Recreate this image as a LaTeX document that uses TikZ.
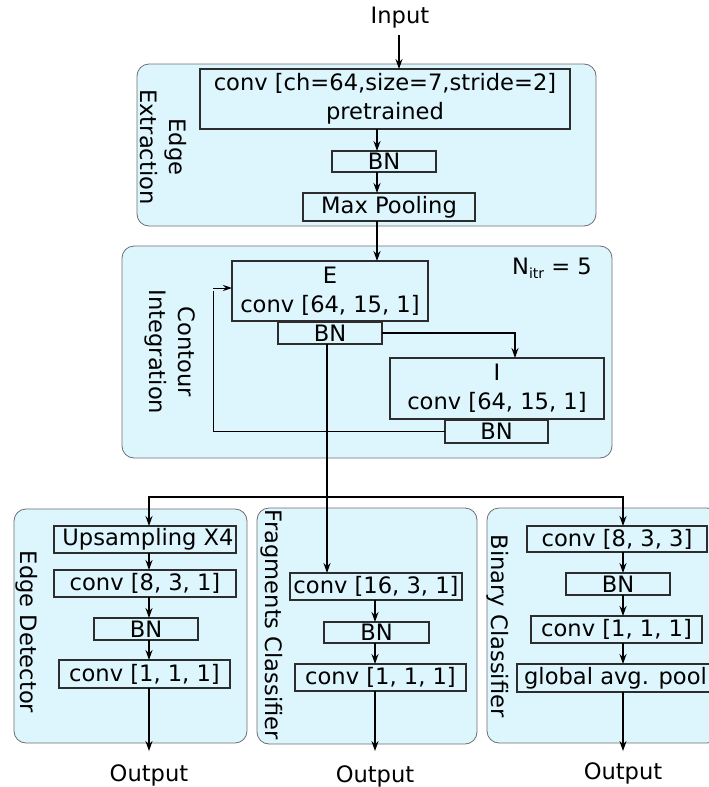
\documentclass[tikz,border=0pt]{standalone}
\usepackage{fontspec}
\setmainfont{DejaVu Sans}
\usetikzlibrary{arrows.meta}
\definecolor{cyanbg}{RGB}{221,246,253}
\definecolor{grpline}{RGB}{110,110,110}
\definecolor{boxline}{RGB}{45,45,45}
\newcommand{\txtsize}{\fontsize{22.6}{29}\selectfont}
\tikzset{
  grp/.style={draw=grpline, fill=cyanbg, rounded corners=12pt, line width=0.8pt, inner sep=0pt, outer sep=0pt},
  blk/.style={draw=boxline, line width=1.4pt, inner sep=0pt, outer sep=0pt, align=center, font=\txtsize},
  lbl/.style={rotate=-90, align=center, inner sep=0pt, font=\txtsize},
  plain/.style={inner sep=0pt, font=\txtsize},
  ln/.style={line width=1.4pt},
  arr/.style={line width=1.4pt, -{Stealth[length=10pt,width=7pt]}},
  fbarr/.style={line width=1pt, -{Stealth[length=9pt,width=6pt]}}
}
\begin{document}
\begin{tikzpicture}[x=1pt, y=-1pt]
\useasboundingbox (0,0) rectangle (709,787);
\clip (0,0) rectangle (709,787);

% ---------- stage containers ----------
\node[grp, minimum width=459, minimum height=162] (gEdge) at (366.5,145) {};
\node[grp, minimum width=490, minimum height=212] (gCont) at (367,352) {};
\node[grp, minimum width=233, minimum height=234] (gDet)  at (130.5,626) {};
\node[grp, minimum width=220, minimum height=236] (gFrag) at (367,626) {};
\node[grp, minimum width=232, minimum height=235] (gBin)  at (603,625.5) {};

% ---------- stage labels ----------
\node[lbl] (tEdge) at (163,147) {Edge\\Extraction};
\node[lbl] (tCont) at (170,352) {Contour\\Integration};
\node[lbl] (tDet)  at (27,632)  {Edge Detector};
\node[lbl] (tFrag) at (272,625) {Fragments Classifier};
\node[lbl] (tBin)  at (498,626) {Binary Classifier};
\node[plain] (nitr) at (552,268) {N\raisebox{-0.3ex}{\fontsize{14}{14}\selectfont itr} = 5};

% ---------- edge extraction ----------
\node[plain] (inp) at (400,18) {Input};
\node[blk, minimum width=370, minimum height=60] (conv0) at (385,99) {conv [ch=64,size=7,stride=2]\\pretrained};
\node[blk, minimum width=104, minimum height=21] (bn0) at (384,161.5) {BN};
\node[blk, minimum width=172, minimum height=28] (mp) at (389,207) {Max Pooling};

% ---------- contour integration ----------
\node[blk, minimum width=196, minimum height=60] (eB) at (330,291) {E\\conv [64, 15, 1]};
\node[blk, minimum width=104, minimum height=22] (bnE) at (330,333) {BN};
\node[blk, minimum width=214, minimum height=61] (iB) at (497,388.5) {I\\conv [64, 15, 1]};
\node[blk, minimum width=103, minimum height=23] (bnI) at (496.5,431.5) {BN};

% ---------- edge detector ----------
\node[blk, minimum width=182, minimum height=27] (upD) at (145,539.5) {\hspace*{6pt}Upsampling X4};
\node[blk, minimum width=182, minimum height=27] (c831) at (145,583.5) {conv [8, 3, 1]};
\node[blk, minimum width=104, minimum height=22] (bnD) at (146,629) {BN};
\node[blk, minimum width=171, minimum height=28] (c111D) at (144.5,674) {conv [1, 1, 1]};
\node[plain] (outD) at (149,775) {Output};

% ---------- fragments classifier ----------
\node[blk, minimum width=172, minimum height=27] (c1631) at (376,586.5) {conv [16, 3, 1]};
\node[blk, minimum width=105, minimum height=21] (bnF) at (376.5,632.5) {BN};
\node[blk, minimum width=171, minimum height=27] (c111F) at (380.5,677.5) {conv [1, 1, 1]};
\node[plain] (outF) at (375,776) {Output};

% ---------- binary classifier ----------
\node[blk, minimum width=180, minimum height=26] (c833) at (617,539) {conv [8, 3, 3]};
\node[blk, minimum width=104, minimum height=22] (bnB) at (618,584) {BN};
\node[blk, minimum width=171, minimum height=27] (c111B) at (616.5,629.5) {conv [1, 1, 1]};
\node[blk, minimum width=197, minimum height=28] (gap) at (615.5,678) {global avg. pool};
\node[plain] (outB) at (623,773) {Output};

% ---------- axes used by the connectors ----------
\coordinate (axIn) at (399,0);
\coordinate (axE)  at (377,0);
\coordinate (axC)  at (327,0);
\coordinate (axI)  at (515,0);
\coordinate (axFb) at (213,0);
\coordinate (axD)  at (149,0);
\coordinate (axF)  at (375,0);
\coordinate (axB)  at (623,0);
\coordinate (split) at (327,497);

% ---------- connectors ----------
\draw[arr] (inp.south -| axIn) ++(0,6) -- (conv0.north -| axIn);
\draw[arr] (conv0.south -| axE) -- (bn0.north -| axE);
\draw[arr] (bn0.south -| axE) -- (mp.north -| axE);
\draw[arr] (mp.south -| axE) -- (eB.north -| axE);

\draw[arr] (bnE.east) -| (iB.north -| axI);
\draw[fbarr] (bnI.west) -| (axFb |- eB.west) ++(0,-3) -- ([yshift=3pt]eB.west);

\draw[arr] (bnE.south -| axC) -- (c1631.north -| axC);
\draw[arr] (split) -| (upD.north -| axD);
\draw[arr] (split) -| (c833.north -| axB);

\draw[arr] (upD.south -| axD) -- (c831.north -| axD);
\draw[arr] (c831.south -| axD) -- (bnD.north -| axD);
\draw[arr] (bnD.south -| axD) -- (c111D.north -| axD);
\draw[arr] (c111D.south -| axD) -- ([yshift=13pt]outD.north -| axD);

\draw[arr] (c1631.south -| axF) -- (bnF.north -| axF);
\draw[arr] (bnF.south -| axF) -- (c111F.north -| axF);
\draw[arr] (c111F.south -| axF) -- ([yshift=14pt]outF.north -| axF);

\draw[arr] (c833.south -| axB) -- (bnB.north -| axB);
\draw[arr] (bnB.south -| axB) -- (c111B.north -| axB);
\draw[arr] (c111B.south -| axB) -- (gap.north -| axB);
\draw[arr] (gap.south -| axB) -- ([yshift=11pt]outB.north -| axB);
\end{tikzpicture}
\end{document}
